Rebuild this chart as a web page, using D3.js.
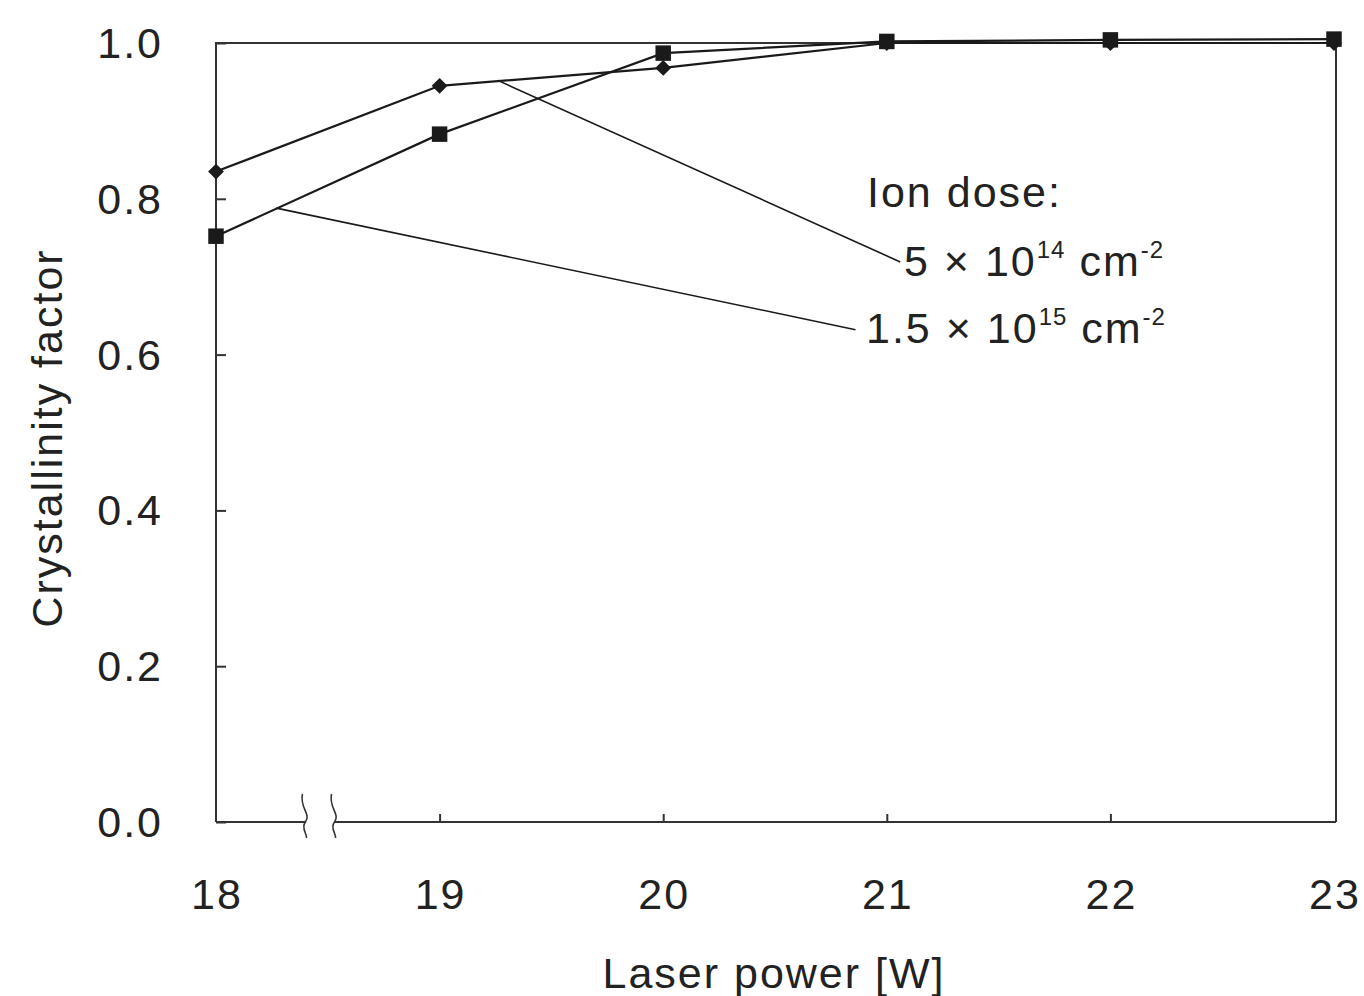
<!doctype html>
<html lang="en">
<head>
<meta charset="utf-8">
<script src="https://cdnjs.cloudflare.com/ajax/libs/d3/7.8.5/d3.min.js"></script>
<style>
  html, body { margin:0; padding:0; background:#fff; }
  svg { display:block; }
  text { font-family: "Liberation Sans", Arial, sans-serif; fill:#222; letter-spacing:2px; }
</style>
</head>
<body>
<div id="chart"></div>
<script>
// data
var power = [18, 19, 20, 21, 22, 23];
var dose5e14 = [0.835, 0.945, 0.968, 1.0, 1.0, 1.0];      // diamonds
var dose15e15 = [0.752, 0.883, 0.987, 1.002, 1.004, 1.005]; // squares
var yTicks = [0, 0.2, 0.4, 0.6, 0.8, 1.0];
var xTicks = [18, 19, 20, 21, 22, 23];
var breakAt = [18.40, 18.53];

var W = 1364, H = 996;
var svg = d3.select('#chart').append('svg').attr('width', W).attr('height', H);

var x = d3.scaleLinear().domain([18, 23]).range([216, 1334]);
var y = d3.scaleLinear().domain([0, 1]).range([822, 43]);

var ink = '#1a1a1a';

// frame: left, top, right
svg.append('path')
  .attr('d', 'M' + x(18) + ',' + y(0) + 'V' + y(1) + 'H' + (x(23) + 2) + 'V' + y(0))
  .attr('fill', 'none').attr('stroke', '#333').attr('stroke-width', 2);

// bottom axis with break
svg.append('line').attr('x1', x(18)).attr('x2', x(breakAt[0])).attr('y1', y(0)).attr('y2', y(0))
  .attr('stroke', '#333').attr('stroke-width', 2);
svg.append('line').attr('x1', x(breakAt[1])).attr('x2', x(23) + 2).attr('y1', y(0)).attr('y2', y(0))
  .attr('stroke', '#333').attr('stroke-width', 2);
breakAt.forEach(function(b) {
  var bx = x(b), by = y(0);
  svg.append('path')
    .attr('d', 'M' + (bx - 3) + ',' + (by - 28) + 'C' + (bx - 6) + ',' + (by - 14) + ' ' + (bx + 6) + ',' + (by - 8) + ' ' + bx + ',' + by +
               'C' + (bx - 5) + ',' + (by + 6) + ' ' + (bx + 2) + ',' + (by + 12) + ' ' + (bx + 1) + ',' + (by + 16))
    .attr('fill', 'none').attr('stroke', '#333').attr('stroke-width', 1.6);
});

// inward ticks
var yAx = svg.append('g').attr('transform', 'translate(' + x(18) + ',0)')
  .call(d3.axisRight(y).tickValues(yTicks).tickSize(10).tickFormat(''));
yAx.select('.domain').remove();
yAx.selectAll('line').attr('stroke', '#333').attr('stroke-width', 2);

var xAx = svg.append('g').attr('transform', 'translate(0,' + y(0) + ')')
  .call(d3.axisTop(x).tickValues(xTicks.slice(1, 5)).tickSize(8).tickFormat(''));
xAx.select('.domain').remove();
xAx.selectAll('line').attr('stroke', '#333').attr('stroke-width', 2);

// tick labels
svg.selectAll('.ylab').data(yTicks).enter().append('text')
  .attr('x', 163).attr('y', function(d) { return y(d) + 15; })
  .attr('text-anchor', 'end').attr('font-size', 43)
  .text(function(d) { return d.toFixed(1); });

svg.selectAll('.xlab').data(xTicks).enter().append('text')
  .attr('x', function(d) { return x(d) + 1; }).attr('y', 909)
  .attr('text-anchor', 'middle').attr('font-size', 43)
  .text(function(d) { return d; });

// axis titles
svg.append('text').attr('transform', 'translate(62,438) rotate(-90)')
  .attr('text-anchor', 'middle').attr('font-size', 43).text('Crystallinity factor');
svg.append('text').attr('x', 774).attr('y', 988)
  .attr('text-anchor', 'middle').attr('font-size', 43).text('Laser power [W]');

// series lines
var line = d3.line().x(function(d) { return x(d[0]); }).y(function(d) { return y(d[1]); });
[dose5e14, dose15e15].forEach(function(s) {
  svg.append('path').datum(d3.zip(power, s)).attr('d', line)
    .attr('fill', 'none').attr('stroke', ink).attr('stroke-width', 2.2);
});

// markers
svg.selectAll('.dia').data(d3.zip(power, dose5e14)).enter().append('path')
  .attr('transform', function(d) { return 'translate(' + x(d[0]) + ',' + y(d[1]) + ') rotate(45)'; })
  .attr('d', d3.symbol().type(d3.symbolSquare).size(125))
  .attr('fill', ink);
svg.selectAll('.sq').data(d3.zip(power, dose15e15)).enter().append('path')
  .attr('transform', function(d) { return 'translate(' + x(d[0]) + ',' + y(d[1]) + ')'; })
  .attr('d', d3.symbol().type(d3.symbolSquare).size(240))
  .attr('fill', ink);

// leader lines (data coordinates)
var leaders = [
  [[19.26, 0.952], [21.06, 0.719]],
  [[18.27, 0.788], [20.86, 0.632]]
];
leaders.forEach(function(l) {
  svg.append('path').datum(l).attr('d', line)
    .attr('fill', 'none').attr('stroke', ink).attr('stroke-width', 1.6);
});

// annotation text
svg.append('text').attr('x', 867).attr('y', 207).attr('font-size', 43).text('Ion dose:');
function doseLabel(xp, yp, mant, exp) {
  var t = svg.append('text').attr('x', xp).attr('y', yp).attr('font-size', 43);
  t.append('tspan').text(mant + ' \u00d7 10');
  t.append('tspan').attr('dy', -18).attr('font-size', 24).attr('letter-spacing', 1).text(exp);
  t.append('tspan').attr('dy', 18).attr('font-size', 43).text(' cm');
  t.append('tspan').attr('dy', -18).attr('font-size', 24).attr('letter-spacing', 1).text('-2');
}
doseLabel(904, 276, '5', '14');
doseLabel(866, 343, '1.5', '15');
</script>
</body>
</html>
